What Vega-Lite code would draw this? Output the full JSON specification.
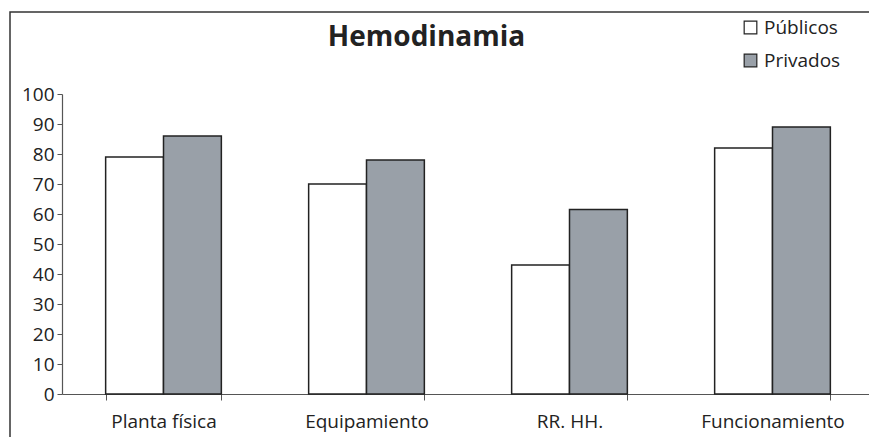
{
  "$schema": "https://vega.github.io/schema/vega-lite/v6.json",
  "autosize": "none",
  "padding": {"left": 10, "top": 12, "right": 0, "bottom": 0},
  "width": 870,
  "height": 440,
  "background": "white",
  "data": {
    "values": [
      {"categoria": "Planta física", "sector": "Públicos", "valor": 79},
      {"categoria": "Planta física", "sector": "Privados", "valor": 86},
      {"categoria": "Equipamiento", "sector": "Públicos", "valor": 70},
      {"categoria": "Equipamiento", "sector": "Privados", "valor": 78},
      {"categoria": "RR.  HH.", "sector": "Públicos", "valor": 43},
      {"categoria": "RR.  HH.", "sector": "Privados", "valor": 61.5},
      {"categoria": "Funcionamiento", "sector": "Públicos", "valor": 82},
      {"categoria": "Funcionamiento", "sector": "Privados", "valor": 89}
    ]
  },
  "mark": {"type": "bar", "stroke": "#222222", "strokeWidth": 1.5},
  "encoding": {
    "x": {
      "field": "categoria",
      "type": "nominal",
      "sort": null,
      "title": null,
      "scale": {"range": [52, 864], "paddingInner": 0.43, "paddingOuter": 0.215},
      "axis": {
        "orient": "bottom",
        "offset": -58,
        "labelAngle": 0,
        "labelFont": "Open Sans",
        "labelFontSize": 19,
        "labelColor": "#222222",
        "labelPadding": 12,
        "tickBand": "extent",
        "tickSize": 6,
        "tickColor": "#555555",
        "domainColor": "#555555",
        "domainWidth": 1.2,
        "grid": false
      }
    },
    "xOffset": {"field": "sector", "type": "nominal", "sort": ["Públicos", "Privados"]},
    "y": {
      "field": "valor",
      "type": "quantitative",
      "title": "Hemodinamia",
      "scale": {"domain": [0, 100], "range": [382, 82], "nice": false},
      "axis": {
        "orient": "left",
        "offset": -52,
        "values": [0, 10, 20, 30, 40, 50, 60, 70, 80, 90, 100],
        "labelFont": "Open Sans",
        "labelFontSize": 19,
        "labelColor": "#222222",
        "labelPadding": 3,
        "tickSize": 5,
        "tickColor": "#555555",
        "domainColor": "#555555",
        "domainWidth": 1.2,
        "grid": false,
        "titleFont": "Open Sans",
        "titleFontSize": 28,
        "titleFontWeight": "bold",
        "titleColor": "#222222",
        "titleAngle": 0,
        "titleAlign": "center",
        "titleBaseline": "alphabetic",
        "titleX": 364,
        "titleY": 33
      }
    },
    "fill": {
      "field": "sector",
      "type": "nominal",
      "sort": ["Públicos", "Privados"],
      "scale": {"domain": ["Públicos", "Privados"], "range": ["#ffffff", "#99a0a8"]},
      "legend": {
        "title": null,
        "orient": "none",
        "legendX": 731,
        "legendY": 6,
        "symbolType": "square",
        "symbolSize": 160,
        "symbolStrokeColor": "#222222",
        "symbolStrokeWidth": 1.2,
        "labelFont": "Open Sans",
        "labelFontSize": 19,
        "labelColor": "#222222",
        "labelOffset": 4,
        "rowPadding": 13
      }
    }
  },
  "config": {
    "view": {"stroke": "#333333", "strokeWidth": 1.5},
    "axis": {"grid": false}
  }
}
